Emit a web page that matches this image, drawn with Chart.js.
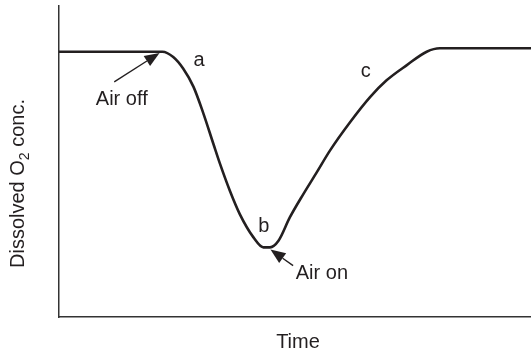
<!DOCTYPE html>
<html>
<head>
<meta charset="utf-8">
<script src="https://cdn.jsdelivr.net/npm/chart.js@4.4.0/dist/chart.umd.min.js"></script>
<style>
  html, body { margin: 0; padding: 0; background: #fff; }
  #wrap { width: 531px; height: 356px; position: relative; }
</style>
</head>
<body>
<div id="wrap"><canvas id="oxygenChart"></canvas></div>
<script>
// Dissolved oxygen trace during a dynamic gassing-out run (arbitrary units)
const timePoints = [0, 21.9, 24.2, 26.3, 28.5, 30.6, 32.7, 34.1, 36.2, 38.3, 41.2, 43.3,
  44.7, 46.5, 48.9, 51.8, 54.6, 57.4, 61.7, 65.9, 69.4, 73.7, 77.9, 80.7, 100];
const oxygenValues = [85.3, 85.3, 83.6, 79.9, 74.0, 65.4, 55.7, 49.3, 40.6, 33.1, 25.6, 22.4,
  22.4, 24.5, 32.0, 39.6, 46.5, 53.5, 62.7, 70.7, 76.1, 81.0, 85.3, 86.4, 86.4];

// Letter markers and arrow callouts, in data units
const letterLabels = [
  { text: 'a', t: 29.7, y: 82.6 },
  { text: 'b', t: 43.4, y: 29.0 },
  { text: 'c', t: 65.0, y: 79.0 }
];
const callouts = [
  { text: 'Air off', t: 13.3, y: 70.0, from: [11.7, 75.6], to: [21.3, 84.9] },
  { text: 'Air on', t: 55.7, y: 13.9, from: [49.6, 16.5], to: [44.8, 21.7] }
];

const FONT = '20px "Liberation Sans", Arial, sans-serif';
const SUB_FONT = '14px "Liberation Sans", Arial, sans-serif';
const INK = '#231f20';

function drawArrow(ctx, x1, y1, x2, y2) {
  const ang = Math.atan2(y2 - y1, x2 - x1);
  const headLen = 15, headHalf = 6;
  const bx = x2 - headLen * Math.cos(ang);
  const by = y2 - headLen * Math.sin(ang);
  ctx.beginPath();
  ctx.moveTo(x1, y1);
  ctx.lineTo(bx, by);
  ctx.lineWidth = 1.4;
  ctx.stroke();
  ctx.beginPath();
  ctx.moveTo(x2, y2);
  ctx.lineTo(bx - headHalf * Math.sin(ang), by + headHalf * Math.cos(ang));
  ctx.lineTo(bx + headHalf * Math.sin(ang), by - headHalf * Math.cos(ang));
  ctx.closePath();
  ctx.fill();
}

const annotationPlugin = {
  id: 'annotations',
  afterDraw(chart) {
    const { ctx, scales: { x, y } } = chart;
    ctx.save();
    ctx.fillStyle = INK;
    ctx.strokeStyle = INK;
    ctx.font = FONT;
    ctx.textAlign = 'center';
    ctx.textBaseline = 'middle';

    letterLabels.forEach(l => ctx.fillText(l.text, x.getPixelForValue(l.t), y.getPixelForValue(l.y)));

    callouts.forEach(c => {
      ctx.fillText(c.text, x.getPixelForValue(c.t), y.getPixelForValue(c.y));
      drawArrow(ctx,
        x.getPixelForValue(c.from[0]), y.getPixelForValue(c.from[1]),
        x.getPixelForValue(c.to[0]), y.getPixelForValue(c.to[1]));
    });

    // x axis title
    const area = chart.chartArea;
    ctx.fillText('Time', (area.left + area.right) / 2 + 3, 342);

    // y axis title with subscript
    ctx.translate(17, (area.top + area.bottom) / 2 + 22);
    ctx.rotate(-Math.PI / 2);
    ctx.textAlign = 'left';
    ctx.textBaseline = 'alphabetic';
    const part1 = 'Dissolved O', sub = '2', part2 = ' conc.';
    ctx.font = FONT;
    const w1 = ctx.measureText(part1).width;
    const w3 = ctx.measureText(part2).width;
    ctx.font = SUB_FONT;
    const w2 = ctx.measureText(sub).width;
    let cx = -(w1 + w2 + w3) / 2;
    ctx.font = FONT;
    ctx.fillText(part1, cx, 7);
    cx += w1;
    ctx.font = SUB_FONT;
    ctx.fillText(sub, cx, 12);
    cx += w2;
    ctx.font = FONT;
    ctx.fillText(part2, cx, 7);
    ctx.restore();
  }
};

const ctx = document.getElementById('oxygenChart').getContext('2d');
new Chart(ctx, {
  type: 'line',
  data: {
    datasets: [{
      data: timePoints.map((t, i) => ({ x: t, y: oxygenValues[i] })),
      borderColor: INK,
      borderWidth: 2.6,
      pointRadius: 0,
      fill: false,
      cubicInterpolationMode: 'monotone'
    }]
  },
  options: {
    responsive: true,
    maintainAspectRatio: false,
    animation: false,
    layout: { padding: { left: 51, top: 6, right: 0, bottom: 31 } },
    scales: {
      x: {
        type: 'linear',
        min: 0,
        max: 100,
        ticks: { display: false },
        grid: { display: false },
        border: { display: true, color: '#333', width: 1.5 }
      },
      y: {
        min: 0,
        max: 100,
        ticks: { display: false },
        grid: { display: false },
        border: { display: true, color: '#333', width: 1.5 }
      }
    },
    plugins: {
      legend: { display: false },
      tooltip: { enabled: false }
    }
  },
  plugins: [annotationPlugin]
});
</script>
</body>
</html>
